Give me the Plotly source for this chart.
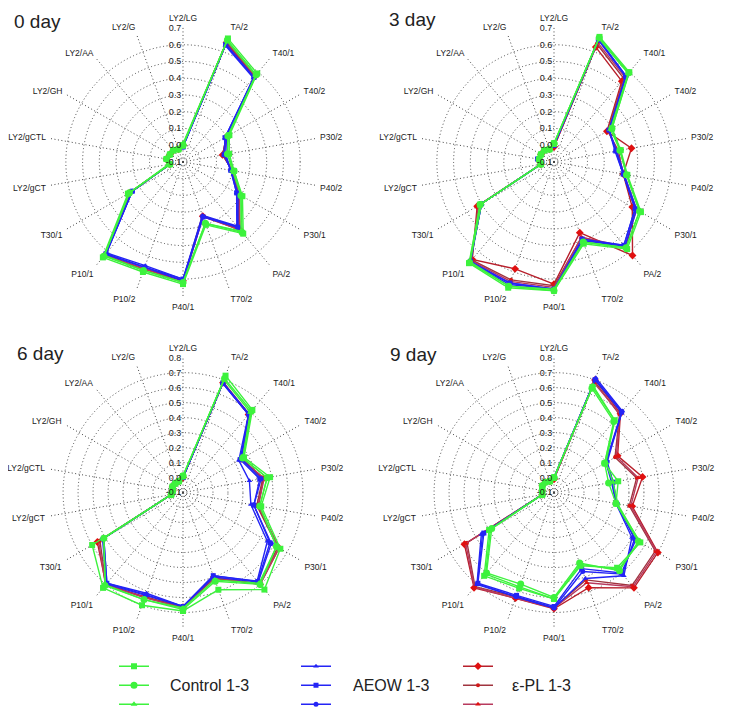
import plotly.graph_objects as go

categories = ["LY2/LG", "TA/2", "T40/1", "T40/2", "P30/2", "P40/2", "P30/1", "PA/2", "T70/2",
              "P40/1", "P10/2", "P10/1", "T30/1", "LY2/gCT", "LY2/gCTL", "LY2/GH", "LY2/AA", "LY2/G"]

panel_titles = ["0 day", "3 day", "6 day", "9 day"]
radial_max = [0.7, 0.7, 0.8, 0.8]

# ---- 0 day ----
d0_control1 = [0.00, 0.685, 0.590, 0.22, 0.18, 0.21, 0.31, 0.46, 0.30, 0.63, 0.60, 0.645, 0.28, -0.02, 0.00, -0.01, -0.01, -0.02]
d0_control2 = [0.00, 0.675, 0.580, 0.21, 0.17, 0.21, 0.30, 0.45, 0.29, 0.62, 0.59, 0.635, 0.27, -0.02, 0.00, -0.01, -0.01, -0.02]
d0_control3 = [0.01, 0.670, 0.575, 0.21, 0.17, 0.20, 0.30, 0.44, 0.29, 0.62, 0.59, 0.630, 0.27, -0.01, 0.00, -0.01, -0.01, -0.02]
d0_aeow1 = [-0.01, 0.640, 0.555, 0.19, 0.15, 0.19, 0.27, 0.40, 0.24, 0.60, 0.56, 0.610, 0.25, -0.02, 0.00, -0.01, -0.01, -0.02]
d0_aeow2 = [-0.01, 0.645, 0.560, 0.19, 0.15, 0.19, 0.27, 0.41, 0.25, 0.60, 0.57, 0.615, 0.25, -0.02, 0.00, -0.01, -0.01, -0.02]
d0_aeow3 = [-0.01, 0.650, 0.560, 0.20, 0.16, 0.19, 0.28, 0.41, 0.25, 0.61, 0.57, 0.620, 0.25, -0.02, 0.00, -0.01, -0.01, -0.02]
d0_epl1 = [0.00, 0.660, 0.570, 0.20, 0.14, 0.20, 0.28, 0.43, 0.245, 0.61, 0.58, 0.630, 0.27, -0.02, 0.00, -0.01, -0.01, -0.02]
d0_epl2 = [0.00, 0.655, 0.565, 0.20, 0.14, 0.20, 0.28, 0.42, 0.24, 0.61, 0.58, 0.625, 0.26, -0.02, 0.00, -0.01, -0.01, -0.02]
d0_epl3 = [0.00, 0.665, 0.570, 0.20, 0.15, 0.20, 0.29, 0.43, 0.25, 0.62, 0.58, 0.630, 0.27, -0.02, 0.00, -0.01, -0.01, -0.02]

# ---- 3 day ----
d3_control1 = [0.01, 0.695, 0.600, 0.30, 0.305, 0.345, 0.50, 0.58, 0.42, 0.67, 0.70, 0.690, 0.41, -0.02, -0.01, -0.01, -0.01, -0.02]
d3_control2 = [0.01, 0.690, 0.595, 0.30, 0.300, 0.340, 0.49, 0.57, 0.41, 0.67, 0.69, 0.685, 0.41, -0.02, -0.01, -0.01, -0.01, -0.02]
d3_control3 = [0.01, 0.685, 0.590, 0.29, 0.300, 0.340, 0.49, 0.57, 0.41, 0.66, 0.69, 0.680, 0.40, -0.02, -0.01, -0.01, -0.01, -0.02]
d3_aeow1 = [0.00, 0.680, 0.570, 0.28, 0.270, 0.320, 0.46, 0.55, 0.40, 0.66, 0.67, 0.680, 0.40, -0.02, 0.00, -0.01, -0.01, -0.02]
d3_aeow2 = [0.00, 0.675, 0.565, 0.28, 0.275, 0.320, 0.46, 0.55, 0.39, 0.66, 0.67, 0.675, 0.40, -0.02, 0.00, -0.01, -0.01, -0.02]
d3_aeow3 = [0.00, 0.680, 0.570, 0.28, 0.280, 0.325, 0.47, 0.56, 0.40, 0.66, 0.68, 0.680, 0.40, -0.02, 0.00, -0.01, -0.01, -0.02]
d3_epl1 = [-0.01, 0.630, 0.530, 0.265, 0.370, 0.320, 0.44, 0.63, 0.35, 0.63, 0.58, 0.660, 0.43, -0.02, -0.01, -0.01, -0.01, -0.02]
d3_epl2 = [-0.01, 0.650, 0.550, 0.270, 0.290, 0.320, 0.46, 0.57, 0.38, 0.64, 0.65, 0.665, 0.42, -0.02, -0.01, -0.01, -0.01, -0.02]
d3_epl3 = [-0.01, 0.660, 0.560, 0.275, 0.280, 0.325, 0.47, 0.56, 0.38, 0.65, 0.66, 0.670, 0.42, -0.02, -0.01, -0.01, -0.01, -0.02]

# ---- 6 day ----
d6_control1 = [0.01, 0.730, 0.620, 0.37, 0.49, 0.43, 0.65, 0.745, 0.59, 0.69, 0.70, 0.730, 0.60, -0.02, -0.03, -0.02, -0.02, -0.02]
d6_control2 = [0.01, 0.710, 0.610, 0.36, 0.47, 0.42, 0.62, 0.700, 0.53, 0.68, 0.66, 0.710, 0.51, -0.02, -0.03, -0.02, -0.02, -0.02]
d6_control3 = [0.01, 0.700, 0.600, 0.36, 0.47, 0.42, 0.62, 0.690, 0.52, 0.67, 0.66, 0.705, 0.51, -0.02, -0.03, -0.02, -0.02, -0.02]
d6_aeow1 = [0.00, 0.675, 0.580, 0.33, 0.35, 0.36, 0.55, 0.670, 0.49, 0.66, 0.615, 0.690, 0.51, -0.02, -0.03, -0.02, -0.02, -0.02]
d6_aeow2 = [0.00, 0.680, 0.585, 0.34, 0.42, 0.38, 0.57, 0.675, 0.49, 0.66, 0.625, 0.690, 0.51, -0.02, -0.03, -0.02, -0.02, -0.02]
d6_aeow3 = [0.00, 0.675, 0.580, 0.35, 0.43, 0.38, 0.58, 0.680, 0.50, 0.66, 0.630, 0.695, 0.52, -0.02, -0.03, -0.02, -0.02, -0.02]
d6_epl1 = [0.00, 0.680, 0.580, 0.35, 0.445, 0.41, 0.64, 0.700, 0.50, 0.665, 0.640, 0.700, 0.56, -0.02, -0.03, -0.02, -0.02, -0.02]
d6_epl2 = [0.00, 0.685, 0.585, 0.35, 0.440, 0.40, 0.63, 0.695, 0.51, 0.665, 0.645, 0.700, 0.54, -0.02, -0.03, -0.02, -0.02, -0.02]
d6_epl3 = [0.00, 0.680, 0.580, 0.35, 0.450, 0.41, 0.64, 0.700, 0.50, 0.670, 0.645, 0.705, 0.55, -0.02, -0.03, -0.02, -0.02, -0.02]

# ---- 9 day ----
d9_control1 = [0.00, 0.650, 0.530, 0.29, 0.335, 0.32, 0.565, 0.555, 0.42, 0.61, 0.58, 0.625, 0.40, -0.02, -0.02, -0.01, -0.01, -0.02]
d9_control2 = [0.00, 0.640, 0.520, 0.29, 0.270, 0.32, 0.550, 0.580, 0.40, 0.60, 0.55, 0.600, 0.38, -0.02, -0.02, -0.01, -0.01, -0.02]
d9_control3 = [0.00, 0.660, 0.530, 0.30, 0.300, 0.33, 0.560, 0.570, 0.41, 0.61, 0.57, 0.610, 0.39, -0.02, -0.02, -0.01, -0.01, -0.02]
d9_aeow1 = [0.00, 0.715, 0.610, 0.30, 0.290, 0.32, 0.500, 0.625, 0.51, 0.67, 0.64, 0.700, 0.46, -0.02, -0.02, -0.01, -0.01, -0.02]
d9_aeow2 = [0.00, 0.700, 0.600, 0.30, 0.300, 0.32, 0.530, 0.600, 0.44, 0.66, 0.63, 0.690, 0.44, -0.02, -0.02, -0.01, -0.01, -0.02]
d9_aeow3 = [0.00, 0.705, 0.605, 0.31, 0.300, 0.33, 0.520, 0.610, 0.46, 0.67, 0.64, 0.695, 0.45, -0.02, -0.02, -0.01, -0.01, -0.02]
d9_epl1 = [-0.01, 0.700, 0.590, 0.39, 0.500, 0.43, 0.700, 0.730, 0.575, 0.675, 0.65, 0.730, 0.59, -0.02, -0.02, -0.01, -0.01, -0.02]
d9_epl2 = [-0.01, 0.690, 0.580, 0.37, 0.460, 0.41, 0.680, 0.710, 0.520, 0.670, 0.64, 0.720, 0.57, -0.02, -0.02, -0.01, -0.01, -0.02]
d9_epl3 = [-0.01, 0.680, 0.585, 0.38, 0.470, 0.42, 0.690, 0.720, 0.540, 0.670, 0.65, 0.725, 0.58, -0.02, -0.02, -0.01, -0.01, -0.02]

panels = [
    {"Control": [d0_control1, d0_control2, d0_control3], "AEOW": [d0_aeow1, d0_aeow2, d0_aeow3], "ePL": [d0_epl1, d0_epl2, d0_epl3]},
    {"Control": [d3_control1, d3_control2, d3_control3], "AEOW": [d3_aeow1, d3_aeow2, d3_aeow3], "ePL": [d3_epl1, d3_epl2, d3_epl3]},
    {"Control": [d6_control1, d6_control2, d6_control3], "AEOW": [d6_aeow1, d6_aeow2, d6_aeow3], "ePL": [d6_epl1, d6_epl2, d6_epl3]},
    {"Control": [d9_control1, d9_control2, d9_control3], "AEOW": [d9_aeow1, d9_aeow2, d9_aeow3], "ePL": [d9_epl1, d9_epl2, d9_epl3]},
]

group_labels = {"Control": "Control 1-3", "AEOW": "AEOW 1-3", "ePL": "ε-PL 1-3"}

styles = {
    "Control": [
        dict(line="#3df23d", marker="#3df23d", symbol="square", size=6),
        dict(line="#3df23d", marker="#3df23d", symbol="circle", size=7),
        dict(line="#3df23d", marker="#3df23d", symbol="triangle-up", size=6),
    ],
    "AEOW": [
        dict(line="#2424f5", marker="#2424f5", symbol="triangle-up", size=5),
        dict(line="#2424f5", marker="#2424f5", symbol="square", size=5),
        dict(line="#2424f5", marker="#2424f5", symbol="circle", size=5),
    ],
    "ePL": [
        dict(line="#b8202c", marker="#e01010", symbol="diamond", size=6),
        dict(line="#a0343f", marker="#d01a1a", symbol="circle", size=4),
        dict(line="#b83a5e", marker="#e01010", symbol="triangle-up", size=5),
    ],
}
legend_ids = {"Control": "legend", "AEOW": "legend2", "ePL": "legend3"}
draw_order = ["ePL", "AEOW", "Control"]

fig = go.Figure()
subplot_names = ["polar", "polar2", "polar3", "polar4"]

for pi, panel in enumerate(panels):
    for g in draw_order:
        for k, vals in enumerate(panel[g]):
            st = styles[g][k]
            fig.add_trace(go.Scatterpolar(
                r=vals + [vals[0]],
                theta=categories + [categories[0]],
                mode="lines+markers",
                subplot=subplot_names[pi],
                line=dict(color=st["line"], width=1.4),
                marker=dict(color=st["marker"], symbol=st["symbol"], size=st["size"]),
                name=" ",
                legend=legend_ids[g],
                showlegend=(pi == 0),
                hovertemplate="%{theta}: %{r}<extra>" + group_labels[g] + "</extra>",
            ))

W, H = 756, 711
centers = [(175, 155, 135), (546, 155, 135), (175, 488, 136), (546, 488, 136)]

def domain(cx, cy, r):
    return dict(x=[(cx - r) / W, (cx + r) / W], y=[1 - (cy + r) / H, 1 - (cy - r) / H])

grid_color = "#444444"
grid_dash = "1px,2.5px"
tick_font = dict(family="Arial", size=9, color="#1a1a1a")
ang_font = dict(family="Arial", size=8.5, color="#1a1a1a")

for pi in range(4):
    cx, cy, r = centers[pi]
    rmax = radial_max[pi]
    ticks = [round(-0.1 + 0.1 * i, 1) for i in range(int(round((rmax + 0.1) / 0.1)) + 1)]
    ticktext = ["%.1f" % t for t in ticks]
    fig.layout[subplot_names[pi]] = dict(
        domain=domain(cx, cy, r),
        bgcolor="rgba(0,0,0,0)",
        gridshape="circular",
        radialaxis=dict(
            range=[-0.1, rmax + 0.001],
            tickvals=ticks,
            ticktext=ticktext,
            angle=90,
            tickangle=90,
            side="counterclockwise",
            showline=False,
            ticks="",
            gridcolor=grid_color,
            griddash=grid_dash,
            gridwidth=1,
            tickfont=tick_font,
        ),
        angularaxis=dict(
            categoryorder="array",
            categoryarray=categories,
            direction="clockwise",
            rotation=90,
            showline=False,
            ticks="outside",
            ticklen=3,
            tickcolor="rgba(0,0,0,0)",
            gridcolor=grid_color,
            griddash=grid_dash,
            gridwidth=1,
            tickfont=ang_font,
        ),
    )

annotations = []
title_pos = [(4, 14), (379, 12), (7, 348), (380, 349)]
for pi, (tx, ty) in enumerate(title_pos):
    annotations.append(dict(text=panel_titles[pi], x=tx / W, y=1 - ty / H, xref="paper", yref="paper",
                            xanchor="left", yanchor="middle", showarrow=False,
                            font=dict(family="Arial", size=19, color="#222222")))

legend_x = {"Control": 106, "AEOW": 288, "ePL": 450}
text_x = {"Control": 160, "AEOW": 343, "ePL": 502}
legend_mid_y = 682
for g in ["Control", "AEOW", "ePL"]:
    annotations.append(dict(text=group_labels[g], x=text_x[g] / W, y=1 - legend_mid_y / H,
                            xref="paper", yref="paper", xanchor="left", yanchor="middle",
                            showarrow=False, font=dict(family="Arial", size=16, color="#222222")))

legend_common = dict(xanchor="left", yanchor="middle", bgcolor="rgba(0,0,0,0)",
                     font=dict(family="Arial", size=9), itemwidth=30, tracegroupgap=0,
                     orientation="v")
fig.update_layout(
    width=W, height=H,
    margin=dict(l=0, r=0, t=0, b=0),
    paper_bgcolor="white",
    plot_bgcolor="white",
    showlegend=True,
    annotations=annotations,
    legend=dict(x=legend_x["Control"] / W, y=1 - legend_mid_y / H, **legend_common),
    legend2=dict(x=legend_x["AEOW"] / W, y=1 - legend_mid_y / H, **legend_common),
    legend3=dict(x=legend_x["ePL"] / W, y=1 - legend_mid_y / H, **legend_common),
    font=dict(family="Arial"),
)

fig.write_html("out.html")
